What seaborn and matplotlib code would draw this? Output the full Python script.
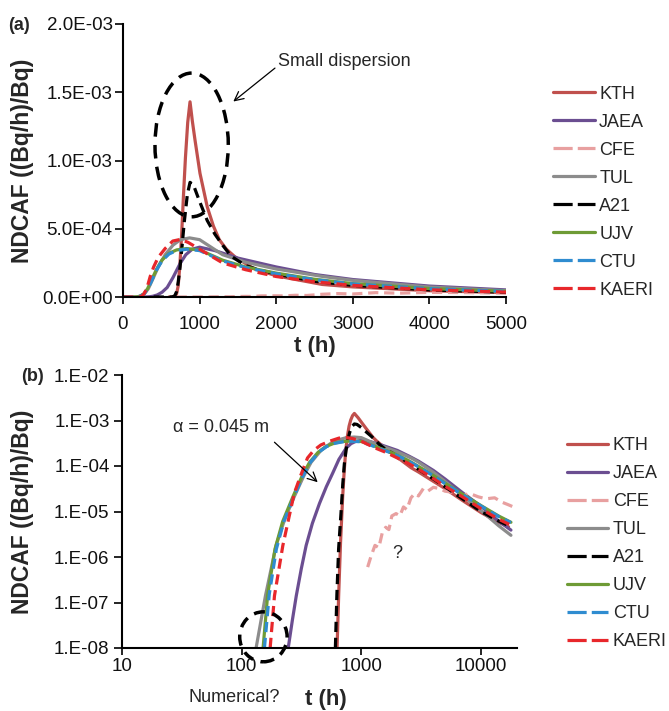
import numpy as np
import pandas as pd
import matplotlib
matplotlib.use("Agg")
import matplotlib.pyplot as plt
import seaborn as sns
from matplotlib.patches import Ellipse
from matplotlib.lines import Line2D
from matplotlib.ticker import FuncFormatter, NullLocator, FixedLocator

# ---------------- data ----------------
models = ["KTH", "JAEA", "CFE", "TUL", "A21", "UJV", "CTU", "KAERI"]

KTH_t = [600, 627, 647, 670, 699, 720, 741, 765, 790, 815, 845, 875, 905, 940, 1005,
         1100, 1180, 1257, 1350, 1462, 1700, 2000, 2600, 3000, 4000, 5000, 7000, 10000, 14000, 17000]
KTH_v = [0, 1e-8, 1.5e-7, 2e-6, 2.2e-5, 8e-5, 2.2e-4, 4.5e-4, 7.5e-4, 1.02e-3, 1.28e-3, 1.43e-3,
         1.29e-3, 1.15e-3, 9.06e-4, 6.6e-4, 5.2e-4, 4.2e-4, 3.5e-4, 2.94e-4, 2.1e-4, 1.55e-4,
         9.2e-5, 7.4e-5, 4.6e-5, 3.2e-5, 1.75e-5, 9.5e-6, 5.8e-6, 4.6e-6]

JAEA_t = [200, 245, 265, 286, 315, 346, 390, 447, 510, 577, 650, 745, 820, 903, 1000, 1200,
          1500, 2000, 2500, 3000, 4000, 5000, 7000, 10000, 14000, 17800]
JAEA_v = [0, 1e-8, 4e-8, 1.4e-7, 5.5e-7, 1.8e-6, 5.5e-6, 1.5e-5, 3.5e-5, 7e-5, 1.4e-4, 2.45e-4,
          3.1e-4, 3.5e-4, 3.65e-4, 3.4e-4, 2.85e-4, 2.2e-4, 1.65e-4, 1.28e-4, 8e-5, 5.2e-5,
          2.6e-5, 1.3e-5, 6.2e-6, 3.9e-6]

CFE_t = [700, 1000, 1130, 1200, 1300, 1400, 1500, 1600, 1700, 1800, 1950, 2100, 2250, 2400,
         2600, 2800, 3000, 3300, 3600, 4000, 4500, 5000, 6000, 7000, 8000, 9500, 11000, 13000,
         15000, 17000, 19500]
CFE_v = [0, 0, 6e-7, 1e-6, 1.8e-6, 1.6e-6, 3.5e-6, 4.5e-6, 4e-6, 8e-6, 9e-6, 8e-6, 1.26e-5,
         1.1e-5, 2e-5, 2.5e-5, 2.2e-5, 3.2e-5, 2.8e-5, 3.4e-5, 3.2e-5, 2.8e-5, 2.6e-5, 2.2e-5,
         2.5e-5, 2.1e-5, 1.9e-5, 2e-5, 1.6e-5, 1.4e-5, 1.2e-5]

TUL_t = [0, 100, 132, 158, 194, 230, 277, 330, 380, 460, 550, 653, 750, 870, 1000, 1300, 1600,
         2000, 2610, 3000, 4000, 5000, 7000, 10000, 14000, 17800]
TUL_v = [0, 0, 1e-8, 1.4e-7, 1.8e-6, 7e-6, 2.2e-5, 6e-5, 1.2e-4, 2.2e-4, 3.1e-4, 3.8e-4, 4.2e-4,
         4.33e-4, 4.2e-4, 3.1e-4, 2.55e-4, 2.05e-4, 1.5e-4, 1.22e-4, 7.3e-5, 4.6e-5, 2.2e-5,
         1.05e-5, 4.9e-6, 3.0e-6]

A21_t = [400, 607, 625, 646, 676, 700, 721, 745, 769, 800, 840, 875, 920, 1000, 1100, 1200, 1300,
         1410, 1600, 1800, 2073, 2500, 3000, 4000, 5000, 7000, 10000, 14000, 17000]
A21_v = [0, 1e-8, 1.5e-7, 1.5e-6, 9e-6, 4e-5, 1.1e-4, 2.2e-4, 3.6e-4, 5.5e-4, 7.5e-4, 8.4e-4,
         8.2e-4, 7.0e-4, 5.6e-4, 4.6e-4, 3.8e-4, 3.0e-4, 2.3e-4, 1.95e-4, 1.6e-4, 1.15e-4,
         8.5e-5, 5.2e-5, 3.5e-5, 1.9e-5, 1.0e-5, 6.2e-6, 4.9e-6]

UJV_t = [0, 100, 151, 165, 190, 220, 270, 320, 369, 435, 508, 600, 700, 830, 1000, 1300, 1600,
         2000, 2500, 3000, 4000, 5000, 7000, 10000, 14000, 17800]
UJV_v = [0, 0, 1e-8, 1.5e-7, 1.5e-6, 6e-6, 2.2e-5, 6e-5, 1.2e-4, 2.0e-4, 2.7e-4, 3.2e-4, 3.45e-4,
         3.55e-4, 3.45e-4, 2.7e-4, 2.2e-4, 1.75e-4, 1.3e-4, 9.8e-5, 6.2e-5, 4.2e-5, 2.4e-5,
         1.35e-5, 8.0e-6, 5.8e-6]

CTU_t = [0, 100, 155, 170, 195, 225, 275, 325, 375, 440, 510, 600, 700, 830, 1000, 1300, 1600,
         2000, 2500, 3000, 4000, 5000, 7000, 10000, 14000, 17800]
CTU_v = [0, 0, 1e-8, 1.5e-7, 1.5e-6, 6e-6, 2.2e-5, 6e-5, 1.2e-4, 2.0e-4, 2.65e-4, 3.15e-4, 3.4e-4,
         3.5e-4, 3.4e-4, 2.65e-4, 2.15e-4, 1.7e-4, 1.27e-4, 9.6e-5, 6.1e-5, 4.1e-5, 2.35e-5,
         1.32e-5, 7.8e-6, 5.7e-6]

KAERI_t = [0, 100, 173, 188, 221, 250, 275, 310, 355, 400, 459, 550, 650, 750, 850, 1000, 1300,
           1600, 2000, 2500, 3000, 4000, 5000, 7000, 10000, 14000, 17800]
KAERI_v = [0, 0, 1e-8, 1.4e-7, 1.8e-6, 8e-6, 2.5e-5, 6e-5, 1.5e-4, 2.2e-4, 2.9e-4, 3.55e-4,
           4.1e-4, 4.22e-4, 4.0e-4, 3.5e-4, 2.5e-4, 2.0e-4, 1.5e-4, 1.12e-4, 8.5e-5, 5.3e-5,
           3.6e-5, 2.1e-5, 1.15e-5, 6.8e-6, 5.0e-6]

series = {"KTH": (KTH_t, KTH_v), "JAEA": (JAEA_t, JAEA_v), "CFE": (CFE_t, CFE_v),
          "TUL": (TUL_t, TUL_v), "A21": (A21_t, A21_v), "UJV": (UJV_t, UJV_v),
          "CTU": (CTU_t, CTU_v), "KAERI": (KAERI_t, KAERI_v)}

df = pd.concat([pd.DataFrame({"t": t, "v": v, "model": m}) for m, (t, v) in series.items()],
               ignore_index=True)

# ---------------- styles ----------------
colors = {"KTH": "#C0504D", "JAEA": "#6B4E91", "CFE": "#E8A0A0", "TUL": "#8C8C8C",
          "A21": "#000000", "UJV": "#6E9B35", "CTU": "#2F8CD0", "KAERI": "#E8272B"}
dashed = {"KTH": False, "JAEA": False, "CFE": True, "TUL": False, "A21": True,
          "UJV": False, "CTU": True, "KAERI": True}
dash_map = {m: ((3.2, 1.8) if d else "") for m, d in dashed.items()}
LW = 2.3

sns.set_style("ticks")
plt.rcParams["font.family"] = ["Liberation Sans", "DejaVu Sans"]
plt.rcParams["axes.linewidth"] = 1.5

fig = plt.figure(figsize=(6.69, 7.11), dpi=100)
W, H = 669, 711
axa = fig.add_axes([123 / W, 1 - 297 / H, 383 / W, 273 / H])
axb = fig.add_axes([122 / W, 1 - 648 / H, 395 / W, 273 / H])

# ---------------- panel (a) ----------------
sns.lineplot(data=df, x="t", y="v", hue="model", style="model", hue_order=models,
             style_order=models, palette=colors, dashes=dash_map, estimator=None,
             sort=False, lw=LW, ax=axa, legend=False)
axa.set_xlim(0, 5000)
axa.set_ylim(0, 2e-3)
axa.xaxis.set_major_locator(FixedLocator([0, 1000, 2000, 3000, 4000, 5000]))
axa.yaxis.set_major_locator(FixedLocator([0, 5e-4, 1e-3, 1.5e-3, 2e-3]))
axa.yaxis.set_major_formatter(FuncFormatter(lambda v, p: f"{v:.1E}"))
axa.xaxis.set_major_formatter(FuncFormatter(lambda v, p: f"{v:.0f}"))

# ---------------- panel (b) ----------------
axb.set_xscale("log")
axb.set_yscale("log")
sns.lineplot(data=df[df["v"] > 0], x="t", y="v", hue="model", style="model",
             hue_order=models, style_order=models, palette=colors, dashes=dash_map,
             estimator=None, sort=False, lw=LW, ax=axb, legend=False)
axb.set_xlim(10, 20000)
axb.set_ylim(1e-8, 1e-2)
axb.xaxis.set_major_locator(FixedLocator([10, 100, 1000, 10000]))
axb.xaxis.set_major_formatter(FuncFormatter(lambda v, p: f"{v:.0f}"))
axb.yaxis.set_major_locator(FixedLocator([1e-8, 1e-7, 1e-6, 1e-5, 1e-4, 1e-3, 1e-2]))
axb.yaxis.set_major_formatter(FuncFormatter(lambda v, p: f"{v:.0E}".replace("E", ".E")))
axb.xaxis.set_minor_locator(NullLocator())
axb.yaxis.set_minor_locator(NullLocator())

# ---------------- common axis styling ----------------
leg_handles = [Line2D([0], [0], color=colors[m], lw=LW,
                      dashes=((6, 1.6) if dashed[m] else (None, None))) for m in models]
cfg = [(axa, -0.232, (1.123, 0.774), (0.5, -0.143), 8.5, 1.5),
       (axb, -0.222, (1.126, 0.772), (0.516, -0.150), 2.5, 3.0)]
for ax, lab_x, leg_anchor, xl_pos, xpad, ypad in cfg:
    sns.despine(ax=ax)
    for s in ["left", "bottom"]:
        ax.spines[s].set_color("black")
        ax.spines[s].set_linewidth(1.5)
    ax.tick_params(axis="both", which="major", direction="out", width=1.2,
                   color="black", labelsize=13.5, labelcolor="#111111")
    ax.tick_params(axis="x", length=5, pad=xpad)
    ax.tick_params(axis="y", length=6, pad=ypad)
    ax.set_xlabel("t (h)", fontsize=16, fontweight="bold")
    ax.set_ylabel("NDCAF ((Bq/h)/Bq)", fontsize=16.5, fontweight="bold")
    ax.yaxis.set_label_coords(lab_x, 0.5)
    ax.xaxis.set_label_coords(*xl_pos)
    ax.legend(leg_handles, models, loc="upper left", bbox_to_anchor=leg_anchor,
              frameon=False, fontsize=13, handlelength=2.3, handletextpad=0.25,
              labelspacing=0.61, borderpad=0, borderaxespad=0)

# ---------------- annotations ----------------
axa.add_patch(Ellipse((896, 1.114e-3), width=957, height=1.053e-3, fill=False,
                      ec="black", lw=2.5, ls=(0, (3.9, 2.4)), zorder=5))
axa.annotate("", xy=(1440, 1.432e-3), xytext=(1984, 1.677e-3),
             arrowprops=dict(arrowstyle="->", lw=0.9, color="black", mutation_scale=16,
                             shrinkA=0, shrinkB=0))
axa.text(2020, 1.725e-3, "Small dispersion", fontsize=13, ha="left", va="center")

axb.add_patch(Ellipse((0.358, 0.041), width=0.12, height=0.183, transform=axb.transAxes,
                      fill=False, ec="black", lw=2.5, ls=(0, (3.2, 2.2)), clip_on=False,
                      zorder=5))
axb.annotate("", xy=(432, 4.4e-5), xytext=(188, 3.33e-4),
             arrowprops=dict(arrowstyle="->", lw=0.9, color="black", mutation_scale=16,
                             shrinkA=0, shrinkB=0))
axb.text(26.5, 7.1e-4, "\u03b1 = 0.045 m", fontsize=13, ha="left", va="center")
axb.text(2007, 1.17e-6, "?", fontsize=13, ha="center", va="center")

fig.text(234 / W, 1 - 698 / H, "Numerical?", fontsize=13, ha="center", va="center")
fig.text(19 / W, 1 - 25 / H, "(a)", fontsize=13, fontweight="bold", ha="center", va="center")
fig.text(32 / W, 1 - 376 / H, "(b)", fontsize=13, fontweight="bold", ha="center", va="center")

fig.savefig("out.png", dpi=100, facecolor="white")
